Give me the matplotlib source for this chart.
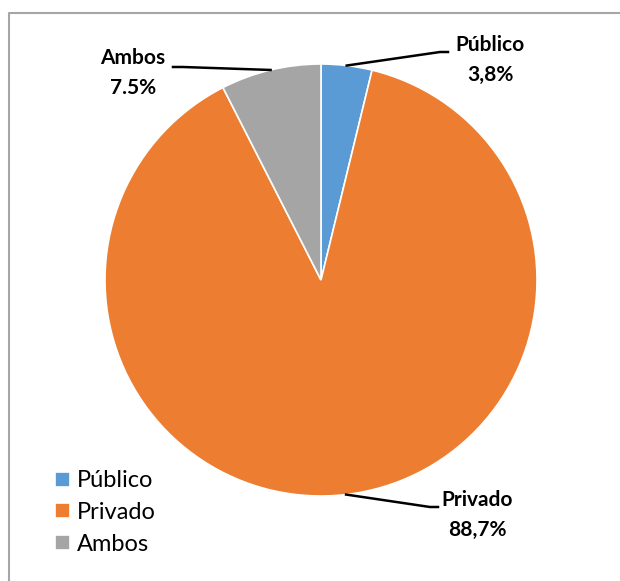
import numpy as np
import matplotlib.pyplot as plt

labels = ['Público', 'Privado', 'Ambos']
values = [3.8, 88.7, 7.5]
pct_text = ['3,8%', '88,7%', '7.5%']
colors = ['#5B9BD5', '#ED7D31', '#A5A5A5']

W, H = 620, 581
fig = plt.figure(figsize=(6.2, 5.81), dpi=100)
ax = fig.add_axes([0, 0, 1, 1])

# outer border (chart area frame, cut off at right/bottom)
ax.plot([9, 9, W + 5], [-5, H - 13, H - 13], color='#A6A6A6', lw=1.5)

cx, cy, r = 321, H - 280, 216
wedges, _ = ax.pie(values, colors=colors, startangle=90, counterclock=False,
                   center=(cx, cy), radius=r, frame=True,
                   wedgeprops=dict(edgecolor='white', linewidth=1.2))
ax.set_xlim(0, W)
ax.set_ylim(0, H)
ax.set_aspect('equal')
ax.axis('off')

# label positions (pixels, y from top): elbow, line end, text centre
lab_pos = {
    'Público': ((440, 52), (448, 52), (490, 60)),
    'Ambos': ((183, 67), (173, 67), (133, 73)),
    'Privado': ((430, 507), (438, 507), (477, 515)),
}
start = 90
for lab, v, pt in zip(labels, values, pct_text):
    mid = np.deg2rad(start - v * 3.6 / 2)
    start -= v * 3.6
    x0, y0 = cx + r * np.cos(mid), cy + r * np.sin(mid)
    (ex, ey), (lx, ly), (tx, ty) = lab_pos[lab]
    ax.plot([x0, ex, lx], [y0, H - ey, H - ly], color='black', lw=1.8)
    ax.text(tx, H - ty, lab + '\n' + pt, ha='center', va='center',
            fontsize=15, fontweight='bold', family='Lato', linespacing=1.6)

leg = ax.legend(wedges, labels, loc='upper left', bbox_to_anchor=(46 / W, 1 - 461 / H),
                frameon=False, fontsize=17, handlelength=0.6, handleheight=0.6,
                handletextpad=0.3, labelspacing=0.45, borderaxespad=0)
for t in leg.get_texts():
    t.set_family('Lato')

fig.savefig('out.png', dpi=100)
